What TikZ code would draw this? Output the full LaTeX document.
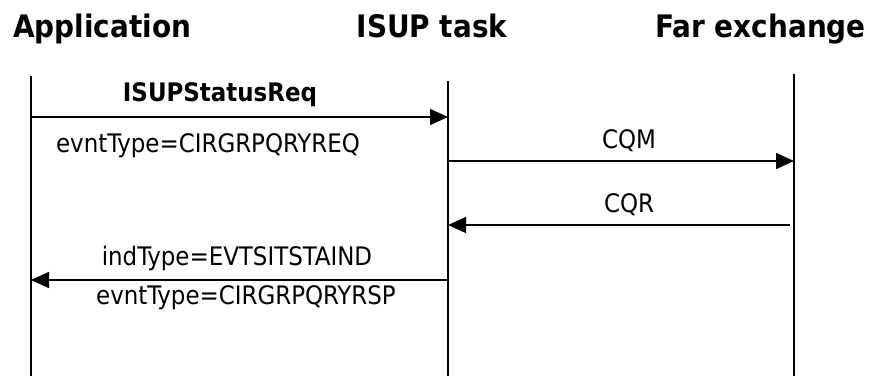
\documentclass[tikz,border=0pt]{standalone}
\usepackage{fontspec}
\setmainfont{DejaVu Sans Condensed}
\usetikzlibrary{arrows.meta}
\begin{document}
\begin{tikzpicture}[x=1pt,y=-1pt,
  life/.style={line width=1.5pt},
  msg/.style={line width=1.5pt,-{Triangle[length=18pt,width=16pt]}},
  hdr/.style={font=\fontsize{31}{36}\selectfont\bfseries, inner sep=0pt, anchor=base},
  lbl/.style={font=\fontsize{25.5}{30}\selectfont, inner sep=0pt, anchor=base},
  blbl/.style={font=\fontsize{25.5}{30}\selectfont\bfseries, inner sep=0pt, anchor=base}]
\useasboundingbox (0,0) rectangle (872,376);
% headers
\node[hdr, anchor=base west] (happ) at (13,37) {Application};
\node[hdr] (hisup) at (432,37) {ISUP task};
\node[hdr, anchor=base east] (hfar) at (866,37) {Far exchange};
% lifelines
\coordinate (a0) at (31,76);  \coordinate (a1) at (31,376);
\coordinate (b0) at (448,81); \coordinate (b1) at (448,376);
\coordinate (c0) at (794,74); \coordinate (c1) at (794,376);
\draw[life] (a0) -- (a1);
\draw[life] (b0) -- (b1);
\draw[life] (c0) -- (c1);
% message end points
\coordinate (m1s) at (31,117);  \coordinate (m1e) at (448,117);
\coordinate (m2s) at (448,161); \coordinate (m2e) at (794,161);
\coordinate (m3s) at (790,225); \coordinate (m3e) at (448,225);
\coordinate (m4s) at (448,280); \coordinate (m4e) at (31,280);
\draw[msg] (m1s) -- (m1e);
\draw[msg] (m2s) -- (m2e);
\draw[msg] (m3s) -- (m3e);
\draw[msg] (m4s) -- (m4e);
% labels
\node[blbl] (l1) at (220,101) {ISUPStatusReq};
\node[lbl] (l2) at (208,152) {evntType=CIRGRPQRYREQ};
\node[lbl] (l3) at (629,148) {CQM};
\node[lbl] (l4) at (629,212) {CQR};
\node[lbl] (l5) at (237,265) {indType=EVTSITSTAIND};
\node[lbl] (l6) at (246,304) {evntType=CIRGRPQRYRSP};
\end{tikzpicture}
\end{document}
